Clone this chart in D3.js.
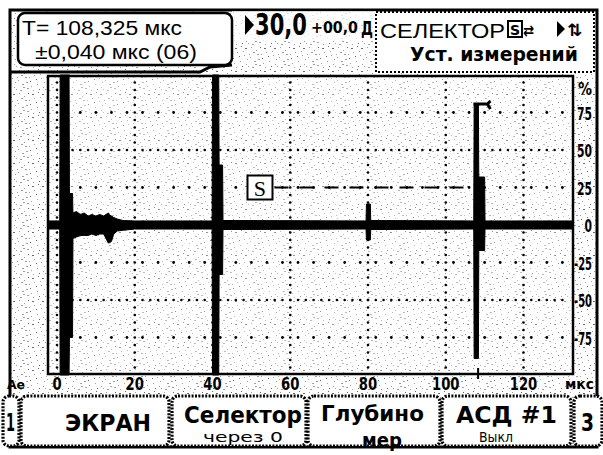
<!DOCTYPE html>
<html><head><meta charset="utf-8">
<script src="https://cdn.jsdelivr.net/npm/d3@7"></script>
<style>
html,body{margin:0;padding:0;background:#fff;}
svg{display:block;}
text{fill:#000;}
</style></head>
<body>
<svg id="c" width="603" height="455"></svg>
<script>
// ---------- DATA ----------
const xTicks = [0, 20, 40, 60, 80, 100, 120];
const xTickLabels = ["0", "20", "40", "60", "80", "100", "120"];
const yTicks = [75, 50, 25, 0, -25, -50, -75];
const yTickLabels = ["75", "50", "25", "0", "-25", "-50", "-75"];
// A-scan envelope: time (µs), upper and lower amplitude (%)
const sigT  = [-2.3, 0.7, 0.8, 3.1, 3.2, 4.0, 4.1, 5.0, 6.0, 7.0, 8.0, 9.0, 10.0, 11.0, 12.0, 13.2, 13.4, 14.0, 14.6, 15.5, 17.0, 20.0,
               39.9, 40.0, 41.6, 41.7, 42.6, 42.7, 79.5, 79.6, 80.6, 80.7,
               107.2, 107.3, 108.4, 108.5, 110.0, 110.1, 132.6];
const sigHi = [2.7, 2.7, 100, 100, 21, 21, 8, 9, 7, 8, 6, 7, 6, 7, 6, 8, 7, 6, 5, 4, 3, 2.7,
               2.7, 100, 100, 40, 40, 3, 2.7, 14, 14, 3,
               2.7, 80, 80, 32, 32, 2.7, 2.7];
const sigLo = [-2.7, -2.7, -100, -100, -75, -75, -9, -8, -7, -7, -7, -6, -7, -6, -6, -12, -12, -11, -6, -4, -3.5, -2.7,
               -2.7, -100, -100, -33, -33, -3, -2.7, -10, -10, -3,
               -2.7, -89, -89, -17, -17, -2.7, -2.7];
// selector gate
const gateStart = 49, gateEnd = 108.3, gateLevel = 25;
const measuredT = 108.325, peakAmp = 80;
// header texts
const hdrT1 = "T= 108,325 мкс";
const hdrT2 = "±0,040 мкс (06)";
const hdrGain = "30,0";
const hdrGainAdd = "+00,0";
const hdrUnit = "Д";
const hdrSel = "СЕЛЕКТОР";
const hdrSel2 = "Уст. измерений";
// softkeys: box extents and text extents
const keys = [
  {t1: "1", t2: "", x0: 3, x1: 19, a0: 6, a1: 15, b0: 0, b1: 0},
  {t1: "ЭКРАН", t2: "", x0: 21, x1: 169, a0: 65, a1: 151, b0: 0, b1: 0},
  {t1: "Селектор", t2: "через 0", x0: 172, x1: 306, a0: 184, a1: 302, b0: 203, b1: 283},
  {t1: "Глубино", t2: "мер", x0: 308, x1: 440, a0: 321, a1: 424, b0: 362, b1: 402},
  {t1: "АСД #1", t2: "Выкл", x0: 442, x1: 571, a0: 456, a1: 557, b0: 479, b1: 513},
  {t1: "3", t2: "", x0: 574, x1: 602, a0: 581, a1: 594, b0: 0, b1: 0}
];
// decorative screen grain (texture tile offsets, not data)
const grain = [[3,2],[11,5],[19,1],[25,8],[7,10],[15,13],[22,15],[2,17],[10,20],[27,19],[5,6],[17,8],[13,2],[24,4],
               [8,15],[20,21],[1,12],[14,18],[26,13],[18,11],[9,0],[21,6],[4,21],[12,9],[28,1],[16,20],[0,8],[23,18]];

// ---------- DRAW ----------
const svg = d3.select("#c");
const BOLD = "'DejaVu Sans','Liberation Sans',sans-serif";
const SANS = "'Liberation Sans','DejaVu Sans',Arial,sans-serif";

// text fitted to a given left edge and width (horizontal scaling only)
function fitText(parent, str, x0, width, yb, family, size, weight) {
  const t = parent.append("text").attr("x", 0).attr("y", 0)
    .style("font-family", family).style("font-size", size + "px").style("font-weight", weight || "normal").text(str);
  const w = t.node().getComputedTextLength() || width;
  t.attr("transform", `translate(${x0},${yb}) scale(${width / w},1)`);
  return t;
}

const defs = svg.append("defs");
const pat = defs.append("pattern").attr("id", "grain").attr("patternUnits", "userSpaceOnUse")
  .attr("width", 29).attr("height", 23);
grain.forEach((p, i) => pat.append("rect").attr("x", p[0]).attr("y", p[1])
  .attr("width", i % 3 === 0 ? 2 : 1).attr("height", 1).attr("fill", i % 4 === 0 ? "#444" : "#888"));

svg.append("rect").attr("width", 603).attr("height", 455).attr("fill", "#fff");
svg.append("rect").attr("x", 10).attr("y", 10).attr("width", 587).attr("height", 437)
  .attr("fill", "url(#grain)").attr("opacity", 0.8);

const x = d3.scaleLinear().domain([0, 120]).range([57, 523.5]);
const y = d3.scaleLinear().domain([-100, 100]).range([375, 75]);

const P = {l: 48, r: 573, t: 76, b: 374};
svg.append("rect").attr("x", P.l).attr("y", P.t).attr("width", P.r - P.l).attr("height", P.b - P.t)
  .attr("fill", "#fff").attr("opacity", 0.3);

// grid dots
const g = svg.append("g");
const tMin = x.invert(P.l + 3), tMax = x.invert(P.r - 3);
xTicks.forEach(t => {
  d3.range(-100, 100.1, 5).forEach(a => {
    const yy = y(a);
    if (yy < P.t + 2 || yy > P.b - 2) return;
    g.append("circle").attr("cx", x(t)).attr("cy", yy).attr("r", 1.3);
  });
});
[50, -50].forEach(a => {
  d3.range(-2, tMax, 2).filter(t => t >= tMin).forEach(t => {
    g.append("circle").attr("cx", x(t)).attr("cy", y(a)).attr("r", 1.3);
  });
});
[75, 25, -25, -75].forEach(a => {
  d3.range(2, tMax, 4).forEach(t => {
    g.append("circle").attr("cx", x(t)).attr("cy", y(a)).attr("r", 1.4);
  });
});

// plot frame
svg.append("rect").attr("x", P.l).attr("y", P.t).attr("width", P.r - P.l).attr("height", P.b - P.t)
  .attr("fill", "none").attr("stroke", "#000").attr("stroke-width", 2.5);

// gate
const gx0 = x(gateStart), gy = y(gateLevel);
svg.append("line").attr("x1", gx0 + 27).attr("x2", x(gateEnd)).attr("y1", gy).attr("y2", gy)
  .attr("stroke", "#000").attr("stroke-width", 2.2).attr("stroke-dasharray", "14,11");
svg.append("rect").attr("x", gx0).attr("y", gy - 12).attr("width", 25).attr("height", 24)
  .attr("fill", "#fff").attr("stroke", "#000").attr("stroke-width", 2);
svg.append("text").attr("x", gx0 + 12.5).attr("y", gy + 8).attr("text-anchor", "middle")
  .style("font-family", "'Liberation Serif','DejaVu Serif',serif").style("font-size", "22px").text("S");

// signal envelope
const sig = sigT.map((t, i) => ({t, hi: sigHi[i], lo: sigLo[i]}));
svg.append("path").datum(sig)
  .attr("d", d3.area().x(d => x(d.t)).y0(d => y(d.lo)).y1(d => y(d.hi)))
  .attr("fill", "#000").attr("stroke", "#000").attr("stroke-width", 1);

// peak flag on the measured echo
const px = x(108.4), py = y(peakAmp);
svg.append("path").attr("d", `M${px - 5},${py - 1} L${px + 9},${py - 1} L${px + 12},${py - 4} M${px + 9},${py - 1} L${px + 12},${py + 4}`)
  .attr("fill", "none").attr("stroke", "#000").attr("stroke-width", 3);
svg.append("path").attr("d", `M${x(measuredT)},${P.b - 6} L${x(measuredT)},${P.b + 5}`)
  .attr("stroke", "#000").attr("stroke-width", 2);

// axis labels
const axg = svg.append("g");
xTicks.forEach((d, i) => {
  const w = xTickLabels[i].length * 9.2;
  fitText(axg, xTickLabels[i], x(d) - w / 2, w, 390, BOLD, 18, "bold");
});
fitText(axg, "Ae", 7, 18, 389, BOLD, 13, "bold");
fitText(axg, "мкс", 565, 29, 389, BOLD, 14, "bold");
const ylw = s => s.length === 3 ? 18 : s.length * 7.5;
yTicks.forEach((d, i) => {
  const w = ylw(yTickLabels[i]);
  fitText(axg, yTickLabels[i], 592 - w, w, y(d) + 7, BOLD, 18, "bold");
});
fitText(axg, "%", 578, 14, 95, BOLD, 18, "bold");

// outer frame
svg.append("rect").attr("x", 10).attr("y", 10).attr("width", 587).attr("height", 437)
  .attr("fill", "none").attr("stroke", "#000").attr("stroke-width", 3);

// ---------- HEADER ----------
const hg = svg.append("g");
hg.append("rect").attr("x", 232).attr("y", 11).attr("width", 144).attr("height", 30).attr("fill", "#fff").attr("opacity", 0.7);
hg.append("path").attr("d", "M10,72 L200,72 L210,67 L232,65")
  .attr("fill", "none").attr("stroke", "#000").attr("stroke-width", 3);
hg.append("rect").attr("x", 18).attr("y", 13).attr("width", 214).attr("height", 52).attr("rx", 7)
  .attr("fill", "#fff").attr("stroke", "#000").attr("stroke-width", 2.5);
fitText(hg, hdrT1, 22, 160, 35, SANS, 21);
fitText(hg, hdrT2, 35, 162, 59, SANS, 21);

hg.append("path").attr("d", "M245,15 L254,25 L245,35 Z").attr("fill", "#000");
fitText(hg, hdrGain, 255, 52, 35, BOLD, 30, "bold");
fitText(hg, hdrGainAdd, 311, 47, 33, BOLD, 15, "bold");
fitText(hg, hdrUnit, 361, 12, 35, BOLD, 20, "bold");

hg.append("rect").attr("x", 376).attr("y", 12).attr("width", 218).attr("height", 60)
  .attr("fill", "#fff").attr("stroke", "#000").attr("stroke-width", 2).attr("stroke-dasharray", "2,2");
fitText(hg, hdrSel, 380, 125, 38, SANS, 21);
hg.append("rect").attr("x", 508).attr("y", 21).attr("width", 14).attr("height", 16)
  .attr("fill", "#fff").attr("stroke", "#000").attr("stroke-width", 2);
hg.append("text").attr("x", 515).attr("y", 34.5).attr("text-anchor", "middle")
  .style("font-family", BOLD).style("font-size", "14px").style("font-weight", "bold").text("S");
fitText(hg, "⇄", 523, 11, 36, "'DejaVu Sans',sans-serif", 16, "bold");
hg.append("path").attr("d", "M557,21 L565,29 L557,37 Z").attr("fill", "#000");
fitText(hg, "⇅", 567, 15, 36, "'DejaVu Sans',sans-serif", 17, "bold");
fitText(hg, hdrSel2, 410, 168, 61, BOLD, 19, "bold");

// ---------- SOFTKEYS ----------
const kg = svg.append("g");
keys.forEach(k => {
  kg.append("rect").attr("x", k.x0).attr("y", 396).attr("width", k.x1 - k.x0).attr("height", 50).attr("rx", 6)
    .attr("fill", "#fff").attr("stroke", "#000").attr("stroke-width", 3.2).attr("stroke-dasharray", "2,1.4");
  const single = !k.t2;
  const big2 = k.t2 === "мер";
  fitText(kg, k.t1, k.a0, k.a1 - k.a0, single ? 431 : (big2 ? 421 : 423), BOLD,
          k.t1.length === 1 ? 25 : (big2 ? 22 : 23), "bold");
  if (k.t2) {
    fitText(kg, k.t2, k.b0, k.b1 - k.b0, big2 ? 447 : 442, BOLD, big2 ? 19 : 14, big2 ? "bold" : "normal");
  }
});
</script>
</body></html>
